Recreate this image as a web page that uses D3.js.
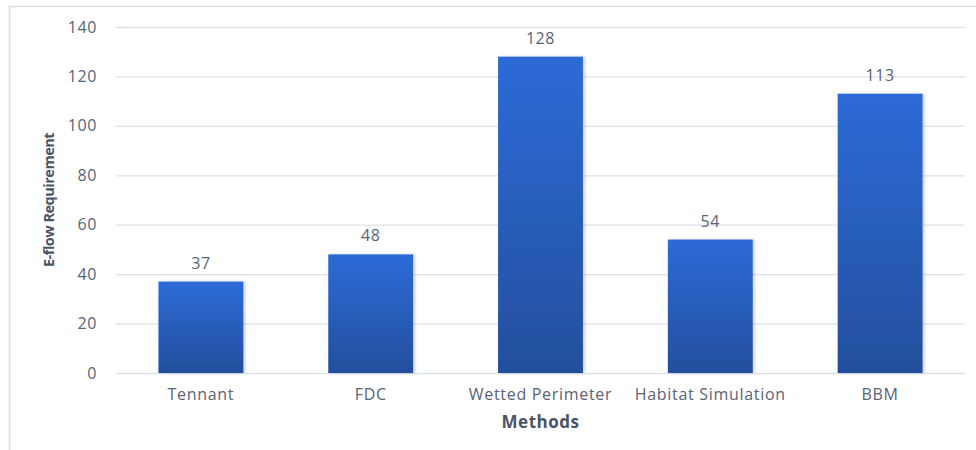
<!DOCTYPE html>
<html>
<head>
<meta charset="utf-8">
<script src="https://cdn.jsdelivr.net/npm/d3@7"></script>
<style>
  html, body { margin: 0; padding: 0; background: #fff; }
  svg { display: block; }
</style>
</head>
<body>
<svg id="chart" width="976" height="450"></svg>
<script>
// E-flow requirement estimated by each method
const methods = ["Tennant", "FDC", "Wetted Perimeter", "Habitat Simulation", "BBM"];
const requirement = [37, 48, 128, 54, 113];
const yTicks = [0, 20, 40, 60, 80, 100, 120, 140];

const svg = d3.select("#chart");
const W = 976, H = 450;
const margin = { left: 116, right: 11, top: 27, bottom: 77 };
const textColor = "#5a6376";
const font = "'Open Sans', 'DejaVu Sans', sans-serif";

// Outer chart frame
svg.append("rect")
  .attr("x", 9.5).attr("y", 6.5)
  .attr("width", W + 10).attr("height", H + 10)
  .attr("fill", "#fff")
  .attr("stroke", "#d9dde3").attr("stroke-width", 1.5);

const x = d3.scaleBand()
  .domain(methods)
  .range([margin.left, W - margin.right])
  .paddingInner(0.5).paddingOuter(0.25);

const y = d3.scaleLinear()
  .domain([0, 140])
  .range([H - margin.bottom, margin.top]);

// Bar gradient
const defs = svg.append("defs");
const grad = defs.append("linearGradient")
  .attr("id", "barGrad").attr("x1", 0).attr("y1", 0).attr("x2", 0).attr("y2", 1);
grad.append("stop").attr("offset", "0%").attr("stop-color", "#2d6bd7");
grad.append("stop").attr("offset", "100%").attr("stop-color", "#234f9d");

const shadow = defs.append("filter").attr("id", "shadow")
  .attr("x", "-10%").attr("y", "-10%").attr("width", "130%").attr("height", "120%");
shadow.append("feDropShadow")
  .attr("dx", 2).attr("dy", 0).attr("stdDeviation", 1.5)
  .attr("flood-color", "#000").attr("flood-opacity", 0.18);

// Gridlines and y tick labels
const yAxis = d3.axisLeft(y).tickValues(yTicks)
  .tickSize(-(W - margin.right - margin.left)).tickPadding(19);
const gy = svg.append("g")
  .attr("transform", `translate(${margin.left},0)`)
  .call(yAxis);
gy.select(".domain").remove();
gy.selectAll(".tick line").attr("stroke", "#dde1e7").attr("stroke-width", 1.3);
gy.selectAll(".tick text")
  .attr("fill", textColor).attr("font-family", font).attr("font-size", 16)
  .attr("letter-spacing", 0.6);

// Bars
svg.append("g").selectAll("rect")
  .data(methods)
  .join("rect")
  .attr("x", d => x(d))
  .attr("y", (d, i) => y(requirement[i]))
  .attr("width", x.bandwidth())
  .attr("height", (d, i) => y(0) - y(requirement[i]))
  .attr("fill", "url(#barGrad)")
  .attr("filter", "url(#shadow)");

// Value labels
svg.append("g").selectAll("text")
  .data(methods)
  .join("text")
  .attr("x", d => x(d) + x.bandwidth() / 2)
  .attr("y", (d, i) => y(requirement[i]) - 13)
  .attr("text-anchor", "middle")
  .attr("fill", textColor).attr("font-family", font).attr("font-size", 16)
  .attr("letter-spacing", 0.6)
  .text((d, i) => requirement[i]);

// Category labels
const gx = svg.append("g")
  .attr("transform", `translate(0,${y(0)})`)
  .call(d3.axisBottom(x).tickSize(0).tickPadding(16));
gx.select(".domain").remove();
gx.selectAll(".tick text")
  .attr("fill", textColor).attr("font-family", font).attr("font-size", 16)
  .attr("letter-spacing", 0.7);

// Axis titles
svg.append("text")
  .attr("x", x(methods[2]) + x.bandwidth() / 2).attr("y", 428)
  .attr("text-anchor", "middle")
  .attr("fill", "#4a5468").attr("font-family", font)
  .attr("font-size", 17).attr("font-weight", "bold")
  .attr("letter-spacing", 0.5)
  .text("Methods");

svg.append("text")
  .attr("transform", `translate(54,${(y(0) + y(140)) / 2}) rotate(-90)`)
  .attr("text-anchor", "middle")
  .attr("fill", "#4a5468").attr("font-family", font)
  .attr("font-size", 14.5).attr("font-weight", "bold")
  .attr("letter-spacing", -0.5)
  .text("E-flow Requirement");
</script>
</body>
</html>
